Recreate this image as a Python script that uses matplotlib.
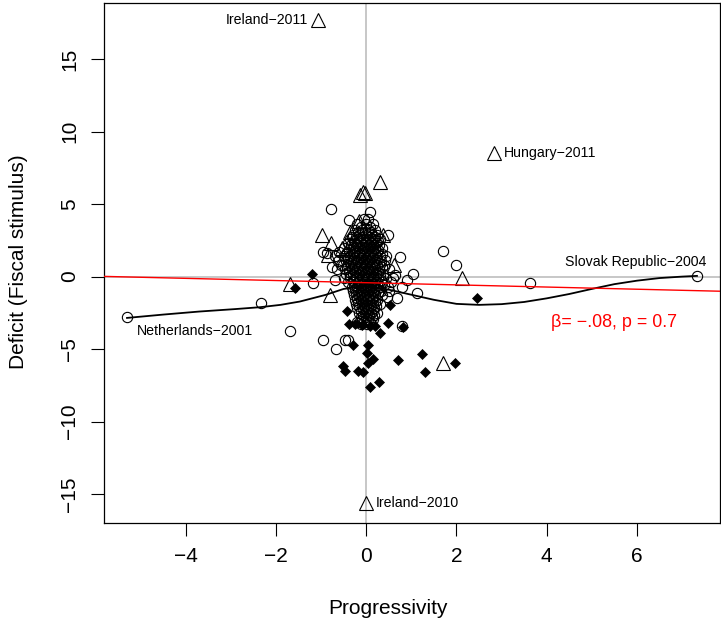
import matplotlib
matplotlib.use("Agg")
import matplotlib.pyplot as plt

plt.rcParams['font.family'] = ['Liberation Sans', 'DejaVu Sans']

# ---------------- DATA ----------------
# open circles: the dense middle cloud, row by row (y, list of x)
core_rows = [
    (4.0, [-0.05, 0.05]),
    (3.6, [-0.2, 0.0, 0.15]),
    (3.4, [-0.12, 0.08]),
    (3.2, [-0.25, -0.1, 0.05, 0.2]),
    (3.05, [-0.18, -0.02, 0.1]),
    (2.9, [-0.3, -0.15, 0.0, 0.12, 0.25]),
    (2.75, [-0.22, -0.06, 0.08, 0.2]),
    (2.6, [-0.35, -0.2, -0.08, 0.05, 0.18, 0.3]),
    (2.45, [-0.28, -0.14, 0.0, 0.12, 0.26]),
    (2.3, [-0.4, -0.25, -0.12, 0.0, 0.1, 0.22]),
    (2.15, [-0.34, -0.2, -0.06, 0.06, 0.16, 0.28]),
    (2.0, [-0.5, -0.3, -0.18, -0.05, 0.08, 0.2, 0.35]),
    (1.85, [-0.38, -0.24, -0.1, 0.02, 0.14, 0.26]),
    (1.7, [-0.6, -0.42, -0.28, -0.15, -0.02, 0.1, 0.25]),
    (1.55, [-0.45, -0.3, -0.16, -0.04, 0.08, 0.2, 0.34]),
    (1.4, [-0.7, -0.5, -0.35, -0.2, -0.08, 0.05, 0.15, 0.3, 0.45]),
    (1.25, [-0.4, -0.26, -0.12, 0.0, 0.12, 0.24]),
    (1.1, [-0.62, -0.45, -0.3, -0.18, -0.05, 0.06, 0.18, 0.32]),
    (0.95, [-0.36, -0.22, -0.1, 0.02, 0.14, 0.28]),
    (0.8, [-0.55, -0.4, -0.25, -0.12, 0.0, 0.12, 0.25, 0.4]),
    (0.65, [-0.42, -0.28, -0.15, -0.04, 0.08, 0.2, 0.34]),
    (0.5, [-0.65, -0.48, -0.32, -0.2, -0.08, 0.04, 0.16, 0.28, 0.5]),
    (0.35, [-0.38, -0.24, -0.12, 0.0, 0.12, 0.26]),
    (0.2, [-0.45, -0.3, -0.15, -0.03, 0.1, 0.22, 0.38]),
    (0.05, [-0.36, -0.22, -0.08, 0.04, 0.16, 0.3]),
    (-0.1, [-0.5, -0.35, -0.22, -0.1, 0.02, 0.14, 0.27, 0.45, 0.6]),
    (-0.25, [-0.3, -0.16, -0.04, 0.08, 0.2, 0.32]),
    (-0.4, [-0.4, -0.28, -0.15, -0.04, 0.08, 0.2, 0.35, 0.55]),
    (-0.55, [-0.26, -0.12, 0.0, 0.1, 0.24, 0.4]),
    (-0.7, [-0.32, -0.2, -0.08, 0.04, 0.16, 0.3, 0.48]),
    (-0.85, [-0.24, -0.12, 0.0, 0.1, 0.24]),
    (-1.0, [-0.3, -0.18, -0.06, 0.06, 0.18, 0.32, 0.5]),
    (-1.15, [-0.22, -0.1, 0.02, 0.14, 0.26]),
    (-1.3, [-0.28, -0.15, -0.04, 0.08, 0.2, 0.35]),
    (-1.45, [-0.2, -0.08, 0.04, 0.16]),
    (-1.6, [-0.25, -0.12, 0.0, 0.12, 0.25]),
    (-1.75, [-0.18, -0.06, 0.06, 0.2]),
    (-1.9, [-0.22, -0.1, 0.02, 0.15, 0.3]),
    (-2.05, [-0.16, -0.04, 0.1, 0.22]),
    (-2.2, [-0.2, -0.08, 0.05, 0.18]),
    (-2.35, [-0.12, 0.0, 0.14]),
    (-2.5, [-0.15, -0.03, 0.1, 0.25]),
    (-2.65, [-0.08, 0.06, 0.18]),
    (-2.8, [-0.12, 0.0, 0.12]),
    (-2.95, [-0.1, 0.04, 0.16]),
    (-3.1, [-0.2, -0.05, 0.08]),
    (-3.25, [-0.12, 0.02]),
]

# open circles away from the cloud
circ_x = [-5.30, 7.33, -2.33, -1.69, 3.63, 1.70, 1.98, 1.04, -0.77, 0.08,
          -0.95, -0.67, -0.47, -0.40, -1.18, -0.69, 0.79, 1.12, 0.79, 0.64,
          0.90, 0.68, 0.46, 0.48, 0.75, 0.41, -0.38, -0.31, -0.95, -0.87,
          -0.76, -0.51]
circ_y = [-2.78, 0.05, -1.83, -3.75, -0.43, 1.77, 0.80, 0.19, 4.66, 4.46,
          -4.40, -5.00, -4.40, -4.40, -0.43, -0.20, -3.40, -1.10, -0.70, 0.10,
          -0.25, -1.50, -1.40, 2.88, 1.36, 1.15, 3.90, 2.74, 1.70, 1.63,
          0.67, 0.80]

# open triangles
tri_x = [-1.07, 2.83, 0.00, 0.31, -0.14, -0.07, -0.03, -0.98, -0.78, -0.85,
         -0.54, -0.36, -0.16, 0.37, 0.62, -1.69, -0.80, 2.12, 1.70]
tri_y = [17.7, 8.5, -15.6, 6.5, 5.6, 5.85, 5.75, 2.87, 2.30, 1.50,
         2.00, 3.10, 3.85, 2.90, 0.80, -0.50, -1.30, -0.10, -5.95]

# filled diamonds
dia_x = [-1.20, -1.58, -0.43, -0.38, -0.25, -0.10, 0.08, 0.20, 0.48, 0.82,
         0.53, 0.30, 0.04, -0.29, 0.02, 0.15, 0.05, -0.51, -0.47, -0.18,
         -0.07, 0.28, 0.08, 0.70, 1.23, 1.31, 1.97, 2.46]
dia_y = [0.20, -0.78, -2.40, -3.30, -3.30, -3.35, -3.40, -3.40, -3.20, -3.50,
         -1.95, -3.90, -4.70, -4.75, -5.30, -5.65, -5.95, -6.20, -6.50, -6.50,
         -6.60, -7.25, -7.60, -5.75, -5.35, -6.55, -5.95, -1.45]

# loess smoother
smooth_x = [-5.3, -4.5, -3.7, -2.9, -2.35, -1.9, -1.47, -0.9, -0.5, 0.0,
            0.5, 1.0, 1.5, 2.0, 2.5, 3.0, 3.5, 4.0, 4.5, 5.0,
            5.5, 6.0, 6.5, 7.0, 7.33]
smooth_y = [-2.85, -2.62, -2.41, -2.24, -2.11, -1.95, -1.72, -1.26, -0.85, -0.65,
            -0.9, -1.25, -1.6, -1.88, -1.95, -1.9, -1.75, -1.5, -1.2, -0.85,
            -0.52, -0.28, -0.1, 0.0, 0.05]

# linear fit (red)
fit_intercept = -0.42
fit_slope = -0.075

labels = [
    ("Ireland\u22122011", -1.07, 17.7, (-7, 0), 'right', 'center'),
    ("Hungary\u22122011", 2.83, 8.5, (7, 0), 'left', 'center'),
    ("Ireland\u22122010", 0.0, -15.6, (7, 0), 'left', 'center'),
    ("Slovak Republic\u22122004", 7.33, 0.05, (7, 10), 'right', 'center'),
    ("Netherlands\u22122001", -5.30, -2.78, (7, -10), 'left', 'center'),
]

xmin, xmax = -5.817, 7.84
ymin, ymax = -17.0, 18.9

# ---------------- CHART ----------------
fig = plt.figure(figsize=(7.21, 6.25), dpi=100)
ax = fig.add_axes([0.1438, 0.1632, 0.8548, 0.8325])

ax.axhline(0, color='#bebebe', lw=1.2, zorder=1)
ax.axvline(0, color='#bebebe', lw=1.2, zorder=1)

core_x = [x for yv, xs in core_rows for x in xs]
core_y = [yv for yv, xs in core_rows for x in xs]

ax.plot(core_x + circ_x, core_y + circ_y, 'o', ms=7.4, mfc='none', mec='black',
        mew=0.8, zorder=3)
ax.plot(tri_x, tri_y, '^', ms=9.5, mfc='none', mec='black', mew=0.8, zorder=3)
ax.plot(dia_x, dia_y, 'D', ms=4.6, mfc='black', mec='black', mew=0.5, zorder=3)

ax.plot(smooth_x, smooth_y, color='black', lw=1.3, zorder=4)
ax.plot([xmin, xmax], [fit_intercept + fit_slope * xmin, fit_intercept + fit_slope * xmax],
        color='red', lw=1.0, zorder=5)

for txt, x, y, off, ha, va in labels:
    ax.annotate(txt, (x, y), xytext=off, textcoords='offset points',
                ha=ha, va=va, fontsize=10.2)

ax.text(4.09, -3.2, "\u03b2= \u2212.08, p = 0.7", color='red', fontsize=12.9,
        ha='left', va='center')

ax.set_xlim(xmin, xmax)
ax.set_ylim(ymin, ymax)
ax.set_xticks([-4, -2, 0, 2, 4, 6])
ax.set_yticks([-15, -10, -5, 0, 5, 10, 15])
ax.tick_params(length=9.5, width=0.8, labelsize=15, pad=8)
ax.tick_params(axis='y', labelrotation=90)
for lab in ax.get_yticklabels():
    lab.set_va('center')
for sp in ax.spines.values():
    sp.set_linewidth(0.9)

ax.set_xlabel("Progressivity", fontsize=15)
ax.set_ylabel("Deficit (Fiscal stimulus)", fontsize=15)
ax.xaxis.label.set_va('center')
ax.yaxis.label.set_va('center')
ax.xaxis.set_label_coords(0.461, -0.1634)
ax.yaxis.set_label_coords(-0.139, 0.502)

plt.savefig("out.png", dpi=100)
plt.close()
